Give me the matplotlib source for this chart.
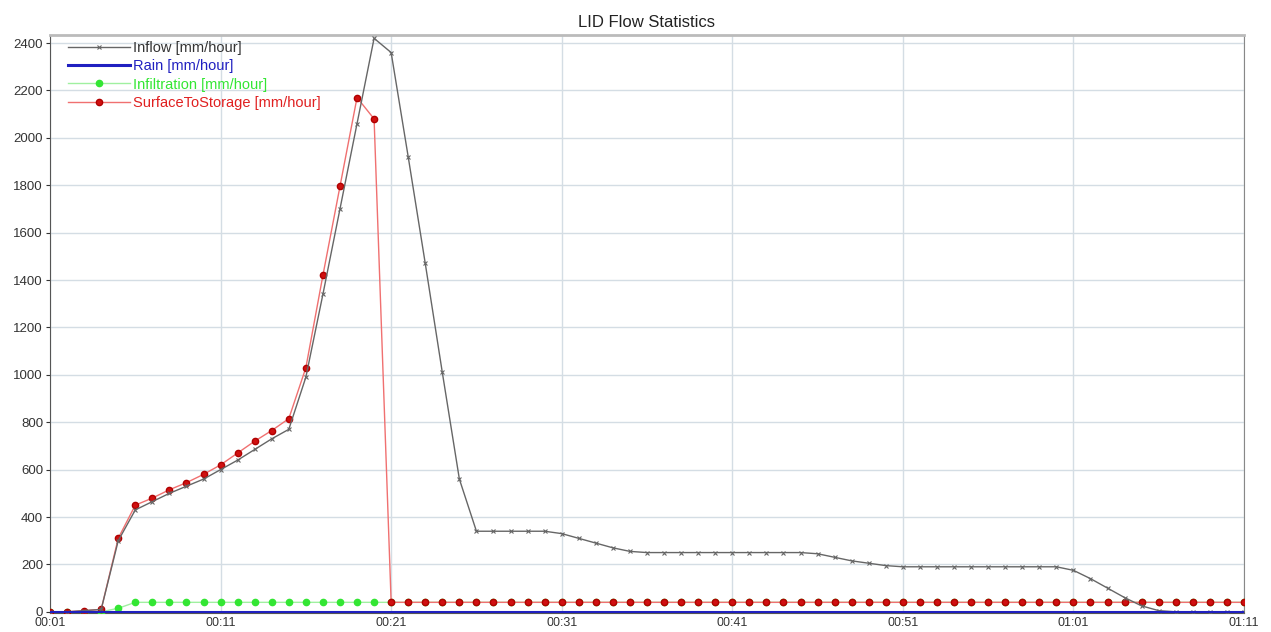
import matplotlib
matplotlib.use("Agg")
import matplotlib.pyplot as plt
import numpy as np

plt.rcParams['font.family'] = ['Liberation Sans', 'DejaVu Sans']

# one value per minute, 00:01 .. 01:11
inflow = [0, 0, 5, 10, 300, 430, 465, 500, 530, 560,
          600, 640, 685, 730, 770, 990, 1340, 1700, 2060, 2420,
          2360, 1920, 1470, 1010, 560, 340, 340, 340, 340, 340,
          330, 310, 290, 270, 255, 250, 250, 250, 250, 250,
          250, 250, 250, 250, 250, 245, 230, 215, 205, 195,
          190, 190, 190, 190, 190, 190, 190, 190, 190, 190,
          175, 140, 100, 60, 25, 5, 0, 0, 0, 0, 0]
rain = [0] * 71
infiltration = [0, 0, 0, 0, 15] + [40] * 66
surface_to_storage = [0, 0, 5, 10, 310, 450, 480, 515, 545, 580,
                      620, 670, 720, 765, 815, 1030, 1420, 1795, 2170, 2080] + [40] * 51

tick_pos = [0, 10, 20, 30, 40, 50, 60, 70]
tick_labels = ['00:01', '00:11', '00:21', '00:31', '00:41', '00:51', '01:01', '01:11']
y_ticks = list(range(0, 2401, 200))

x = np.arange(len(inflow))

fig = plt.figure(figsize=(12.71, 6.32), dpi=100)
ax = fig.add_axes([50 / 1271, 1 - 613 / 632, 1194 / 1271, 578 / 632])

ax.plot(x, inflow, color='#666666', lw=1.0, marker='x', ms=3, mew=0.8,
        label='Inflow [mm/hour]', zorder=4)
ax.plot(x, rain, color='#2020c0', lw=2.2, label='Rain [mm/hour]', zorder=5)
ax.plot(x, infiltration, color='#a0f0a0', lw=1.0, marker='o', ms=4.5,
        mfc='#33e633', mec='#33e633', label='Infiltration [mm/hour]', zorder=3)
ax.plot(x, surface_to_storage, color='#f07070', lw=1.0, marker='o', ms=4.5,
        mfc='#d01010', mec='#b00000', label='SurfaceToStorage [mm/hour]', zorder=3)

ax.set_xlim(0, 70)
ax.set_ylim(-5, 2434)
ax.set_xticks(tick_pos)
ax.set_xticklabels(tick_labels)
ax.set_yticks(y_ticks)
ax.tick_params(axis='y', labelsize=9.5, colors='#333333', length=3, pad=2)
ax.tick_params(axis='x', labelsize=9, colors='#333333', length=0, pad=3)
ax.grid(True, color='#d4dde4', lw=1.0)
ax.set_axisbelow(True)

for side in ['left', 'bottom']:
    ax.spines[side].set_color('#555555')
ax.spines['top'].set_color('#bbbbbb')
ax.spines['top'].set_linewidth(2)
ax.spines['right'].set_color('#888888')

ax.set_title('LID Flow Statistics', fontsize=12, color='#222222', pad=6)

leg = ax.legend(loc='upper left', frameon=False, fontsize=10.5, handlelength=4.3,
                handletextpad=0.2, labelspacing=0.3, borderaxespad=0.0,
                bbox_to_anchor=(0.01, 1.0))
text_colors = ['#333333', '#2020c0', '#33e633', '#e02020']
for txt, c in zip(leg.get_texts(), text_colors):
    txt.set_color(c)

fig.savefig('out.png', dpi=100)
